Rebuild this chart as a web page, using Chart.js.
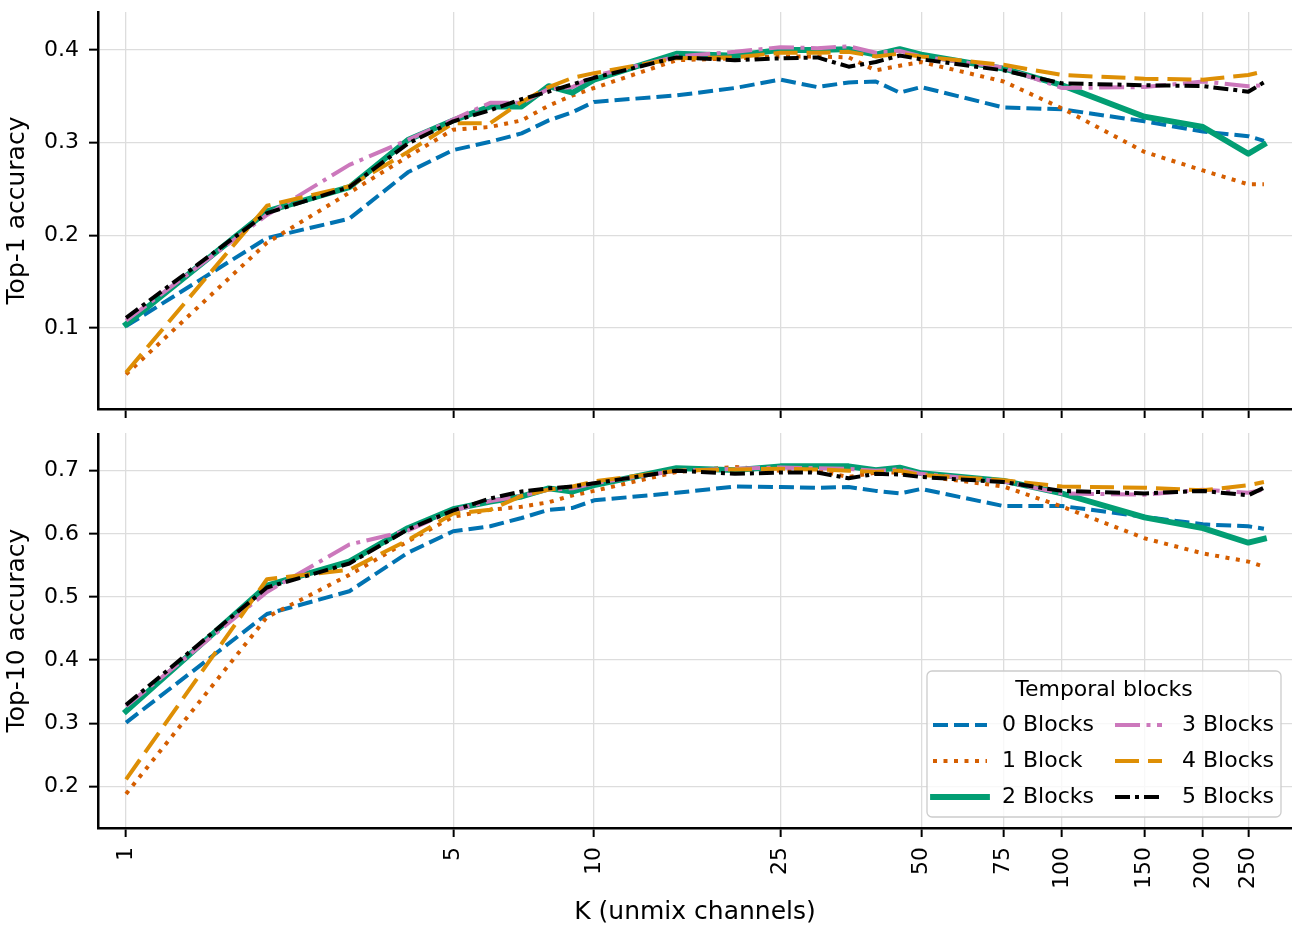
<!DOCTYPE html>
<html>
<head>
<meta charset="utf-8">
<script src="https://cdn.jsdelivr.net/npm/chart.js@4.4.1/dist/chart.umd.min.js"></script>
<style>
  html, body { margin: 0; padding: 0; background: #fff; }
  #wrap { position: relative; width: 1292px; height: 926px; }
  #top-chart { position: absolute; left: 0; top: 0; }
  #bottom-chart { position: absolute; left: 0; top: 433px; }
</style>
</head>
<body>
<div id="wrap">
  <canvas id="top-chart" width="1292" height="433"></canvas>
  <canvas id="bottom-chart" width="1292" height="493"></canvas>
</div>
<script>
// K values (unmix channels) and axis ticks
const kValues = [1, 2, 3, 4, 5, 6, 7, 8, 9, 10, 15, 20, 25, 30, 35, 40, 45, 50, 75, 100, 150, 200, 250, 270];
const xTickValues = [1, 5, 10, 25, 50, 75, 100, 150, 200, 250];
const top1Ticks = [0.1, 0.2, 0.3, 0.4];
const top10Ticks = [0.2, 0.3, 0.4, 0.5, 0.6, 0.7];
const seriesNames = ['0 Blocks', '1 Block', '2 Blocks', '3 Blocks', '4 Blocks', '5 Blocks'];

// Top-1 accuracy
const top1Blocks0 = [0.102, 0.197, 0.218, 0.268, 0.292, 0.301, 0.310, 0.324, 0.333, 0.344, 0.351, 0.359, 0.368, 0.360, 0.365, 0.366, 0.354, 0.360, 0.338, 0.336, 0.323, 0.312, 0.307, 0.302];
const top1Blocks1 = [0.050, 0.192, 0.246, 0.285, 0.314, 0.317, 0.324, 0.340, 0.351, 0.359, 0.389, 0.391, 0.393, 0.393, 0.392, 0.378, 0.383, 0.387, 0.366, 0.337, 0.290, 0.270, 0.255, 0.255];
const top1Blocks2 = [0.104, 0.226, 0.252, 0.303, 0.324, 0.339, 0.339, 0.361, 0.354, 0.368, 0.396, 0.394, 0.400, 0.400, 0.401, 0.395, 0.401, 0.395, 0.380, 0.362, 0.328, 0.317, 0.288, 0.298];
const top1Blocks3 = [0.108, 0.222, 0.276, 0.303, 0.325, 0.343, 0.343, 0.358, 0.360, 0.372, 0.393, 0.398, 0.403, 0.402, 0.404, 0.397, 0.399, 0.393, 0.381, 0.359, 0.360, 0.366, 0.361, 0.362];
const top1Blocks4 = [0.052, 0.232, 0.253, 0.290, 0.321, 0.321, 0.344, 0.360, 0.370, 0.375, 0.391, 0.392, 0.397, 0.397, 0.398, 0.393, 0.396, 0.393, 0.384, 0.373, 0.369, 0.368, 0.373, 0.377];
const top1Blocks5 = [0.111, 0.224, 0.252, 0.299, 0.323, 0.335, 0.347, 0.355, 0.363, 0.370, 0.392, 0.389, 0.391, 0.392, 0.382, 0.387, 0.394, 0.390, 0.378, 0.364, 0.362, 0.361, 0.355, 0.365];

// Top-10 accuracy
const top10Blocks0 = [0.301, 0.473, 0.509, 0.570, 0.604, 0.612, 0.625, 0.638, 0.641, 0.653, 0.665, 0.675, 0.674, 0.673, 0.674, 0.668, 0.664, 0.671, 0.644, 0.644, 0.627, 0.615, 0.612, 0.608];
const top10Blocks1 = [0.188, 0.468, 0.535, 0.588, 0.627, 0.638, 0.643, 0.650, 0.661, 0.668, 0.698, 0.706, 0.700, 0.700, 0.690, 0.697, 0.697, 0.692, 0.675, 0.643, 0.593, 0.569, 0.556, 0.548];
const top10Blocks2 = [0.319, 0.518, 0.556, 0.609, 0.639, 0.651, 0.659, 0.672, 0.667, 0.677, 0.704, 0.701, 0.707, 0.707, 0.707, 0.701, 0.705, 0.696, 0.684, 0.664, 0.626, 0.609, 0.586, 0.592];
const top10Blocks3 = [0.327, 0.508, 0.583, 0.605, 0.637, 0.652, 0.660, 0.670, 0.672, 0.680, 0.700, 0.703, 0.705, 0.704, 0.703, 0.700, 0.702, 0.695, 0.683, 0.664, 0.662, 0.670, 0.665, 0.670];
const top10Blocks4 = [0.211, 0.528, 0.543, 0.590, 0.632, 0.638, 0.660, 0.670, 0.675, 0.683, 0.700, 0.702, 0.703, 0.702, 0.700, 0.698, 0.700, 0.693, 0.685, 0.675, 0.673, 0.669, 0.677, 0.682];
const top10Blocks5 = [0.329, 0.515, 0.553, 0.607, 0.637, 0.656, 0.667, 0.672, 0.675, 0.680, 0.700, 0.695, 0.697, 0.697, 0.688, 0.695, 0.694, 0.690, 0.682, 0.668, 0.664, 0.668, 0.661, 0.673];

// line styles per series
const seriesColors = ['#0173b2', '#d55e00', '#029e73', '#cc78bc', '#de8f05', '#000000'];
const seriesDash = [[15, 6], [4, 6.5], [], [25, 6.5, 4, 6.5], [24, 9], [15, 5, 4, 5]];
const seriesWidth = [4, 4, 5.8, 4, 4, 4];

const gridColor = '#dddddd';
Chart.defaults.font.family = "'DejaVu Sans', sans-serif";
Chart.defaults.color = '#000';

function makeDatasets(seriesValues) {
    return seriesValues.map((vals, i) => ({
        label: seriesNames[i],
        data: kValues.map((k, j) => ({ x: k, y: vals[j] })),
        borderColor: seriesColors[i],
        backgroundColor: seriesColors[i],
        borderWidth: seriesWidth[i],
        borderDash: seriesDash[i],
        borderCapStyle: i === 2 ? 'square' : 'butt',
        borderJoinStyle: 'round',
        pointRadius: 0,
        tension: 0,
        fill: false,
        order: seriesNames.length - i   // later series drawn on top
    }));
}

function makeScales(yMin, yMax, yTicks, yTitle, showXLabels, xHeight) {
    return {
        x: {
            type: 'logarithmic',
            min: 0.871,
            max: 310,
            afterBuildTicks: s => { s.ticks = xTickValues.map(v => ({ value: v })); },
            afterFit: s => { s.height = xHeight; s.paddingLeft = 0; s.paddingRight = 0; },
            grid: { color: gridColor, lineWidth: 1.3, drawTicks: true, tickLength: 9, tickColor: '#000', tickWidth: 2 },
            border: { display: true, color: '#000', width: 2.5 },
            ticks: {
                display: showXLabels,
                minRotation: 90, maxRotation: 90,
                autoSkip: false,
                padding: 10,
                font: { size: 22 },
                callback: v => String(v)
            },
            title: {
                display: showXLabels,
                text: 'K (unmix channels)',
                font: { size: 25, lineHeight: 1 },
                padding: { top: 0, bottom: 1 }
            }
        },
        y: {
            type: 'linear',
            min: yMin,
            max: yMax,
            afterBuildTicks: s => { s.ticks = yTicks.map(v => ({ value: v })); },
            afterFit: s => { s.width = 98; s.paddingTop = 0; s.paddingBottom = 0; },
            grid: { color: gridColor, lineWidth: 1.3, drawTicks: true, tickLength: 9, tickColor: '#000', tickWidth: 2 },
            border: { display: true, color: '#000', width: 2.5 },
            ticks: { padding: 10, font: { size: 22 }, callback: v => v.toFixed(1) },
            title: {
                display: true,
                text: yTitle,
                font: { size: 25, lineHeight: 1 },
                padding: { top: 5, bottom: 0 }
            }
        }
    };
}

// legend drawn inside the lower panel, two columns like the original
const legendPlugin = {
    id: 'blockLegend',
    afterDraw(chart) {
        const ctx = chart.ctx;
        const box = { x: 927, y: 238, w: 354, h: 146 };
        ctx.save();
        ctx.beginPath();
        ctx.roundRect(box.x, box.y, box.w, box.h, 5);
        ctx.fillStyle = 'rgba(255,255,255,0.8)';
        ctx.fill();
        ctx.lineWidth = 1.3;
        ctx.strokeStyle = '#cccccc';
        ctx.stroke();

        ctx.fillStyle = '#000';
        ctx.font = "22px 'DejaVu Sans'";
        ctx.textBaseline = 'middle';
        ctx.textAlign = 'center';
        ctx.fillText('Temporal blocks', 1104, 257);

        const cols = [{ x0: 933, x1: 987, tx: 1002 }, { x0: 1115, x1: 1162, tx: 1182 }];
        const rows = [292, 328, 364];
        ctx.textAlign = 'left';
        seriesNames.forEach((name, i) => {
            const c = cols[Math.floor(i / 3)];
            const y = rows[i % 3];
            ctx.beginPath();
            ctx.setLineDash(seriesDash[i]);
            ctx.lineWidth = seriesWidth[i];
            ctx.lineCap = i === 2 ? 'square' : 'butt';
            ctx.strokeStyle = seriesColors[i];
            ctx.moveTo(c.x0, y);
            ctx.lineTo(c.x1, y);
            ctx.stroke();
            ctx.setLineDash([]);
            ctx.fillStyle = '#000';
            ctx.fillText(name, c.tx, y);
        });
        ctx.restore();
    }
};

new Chart(document.getElementById('top-chart'), {
    type: 'line',
    data: { datasets: makeDatasets([top1Blocks0, top1Blocks1, top1Blocks2, top1Blocks3, top1Blocks4, top1Blocks5]) },
    options: {
        responsive: false,
        animation: false,
        events: [],
        layout: { padding: { top: 12, left: 0, right: 0, bottom: 0 } },
        plugins: { legend: { display: false }, tooltip: { enabled: false } },
        scales: makeScales(0.0126, 0.441, top1Ticks, 'Top-1 accuracy', false, 24)
    }
});

new Chart(document.getElementById('bottom-chart'), {
    type: 'line',
    data: { datasets: makeDatasets([top10Blocks0, top10Blocks1, top10Blocks2, top10Blocks3, top10Blocks4, top10Blocks5]) },
    options: {
        responsive: false,
        animation: false,
        events: [],
        layout: { padding: { top: 0, left: 0, right: 0, bottom: 0 } },
        plugins: { legend: { display: false }, tooltip: { enabled: false } },
        scales: makeScales(0.134, 0.7597, top10Ticks, 'Top-10 accuracy', true, 98)
    },
    plugins: [legendPlugin]
});
</script>
</body>
</html>
